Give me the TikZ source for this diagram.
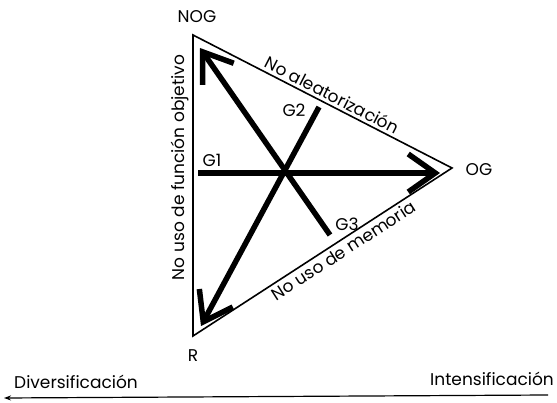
\documentclass[tikz,border=0pt]{standalone}
\usepackage{fontspec}
\setmainfont{Poppins}
\usetikzlibrary{arrows.meta}
\begin{document}
\begin{tikzpicture}[x=1pt,y=-1pt,
  edge/.style={line width=1.6pt, line join=miter},
  bigarrow/.style={line width=5.5pt, -{Straight Barb[length=27pt,width=38pt,line width=5.5pt]}},
  lbl/.style={font=\fontsize{17}{19}\selectfont, inner sep=2pt},
  elbl/.style={lbl, sloped, inner sep=3.5pt},
  axisline/.style={line width=1.2pt, -{Stealth[length=7pt,width=5pt]}}]
\useasboundingbox (0,0) rectangle (557,403);
\coordinate (NOG) at (193,35);
\coordinate (OG) at (452,168);
\coordinate (R) at (193,336);
\draw[edge] (NOG) -- (OG) -- (R) -- cycle;
\path (NOG) -- node[elbl, above, pos=0.52] (ea) {No aleatorización} (OG);
\path (R) -- node[elbl, below, pos=0.56] (em) {No uso de memoria} (OG);
\path (R) -- node[elbl, above, pos=0.56] (ef) {No uso de función objetivo} (NOG);
\node[lbl] (nog) at (197,17) {NOG};
\node[lbl] (og) at (479,170) {OG};
\node[lbl] (r) at (193,356) {R};
\coordinate (g1s) at (198,173);
\coordinate (g1e) at (440,173);
\coordinate (g3s) at (330,235);
\coordinate (nogt) at (200,48);
\coordinate (g2s) at (319,107);
\coordinate (rt) at (201,326);
\draw[bigarrow] (g1s) -- (g1e);
\draw[bigarrow] (g3s) -- (nogt);
\draw[bigarrow] (g2s) -- (rt);
\node[lbl] (g1) at (212,160) {G1};
\node[lbl] (g2) at (294,110) {G2};
\node[lbl] (g3) at (347,224) {G3};
\node[lbl] (div) at (76,382) {Diversificación};
\node[lbl] (int) at (492,379) {Intensificación};
\coordinate (sr) at (548,395);
\coordinate (sl) at (4,398);
\draw[axisline] (sr) -- (sl);
\end{tikzpicture}
\end{document}
